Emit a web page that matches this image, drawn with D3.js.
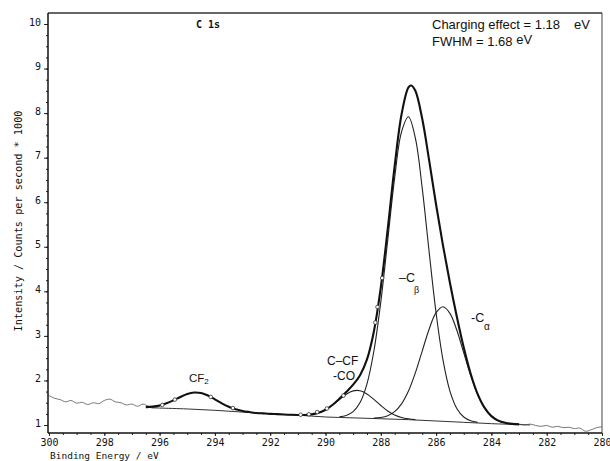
<!DOCTYPE html>
<html>
<head>
<meta charset="utf-8">
<script src="https://cdn.jsdelivr.net/npm/d3@7"></script>
<style>
  html, body { margin: 0; padding: 0; background: #fff; }
  svg { display: block; }
</style>
</head>
<body>
<svg id="chart" width="610" height="461"></svg>
<script>
// ---- data (binding energy in eV, intensity in counts/s * 1000) ----
const xTickValues = [300, 298, 296, 294, 292, 290, 288, 286, 284, 282, 280];
const yTickValues = [1, 2, 3, 4, 5, 6, 7, 8, 9, 10];

const rawLeft = [
  [300.0,1.66],[299.8,1.60],[299.6,1.57],[299.4,1.52],[299.2,1.55],[299.0,1.49],
  [298.8,1.51],[298.6,1.46],[298.4,1.50],[298.2,1.48],[298.0,1.55],[297.8,1.58],
  [297.6,1.52],[297.4,1.50],[297.2,1.45],[297.0,1.47],[296.8,1.42],[296.6,1.47],
  [296.4,1.42],[296.2,1.40],[296.0,1.42]
];
const rawRight = [
  [283.2,1.03],[283.0,1.02],[282.8,1.00],[282.6,1.02],[282.4,0.99],[282.2,0.97],
  [282.0,0.99],[281.8,0.95],[281.6,0.97],[281.4,0.94],[281.2,0.95],[281.0,0.92],
  [280.8,0.93],[280.6,0.86],[280.4,0.89],[280.2,0.94],[280.0,0.96]
];
const rawPoints = [
  [295.9,1.45],[295.45,1.57],[294.15,1.63],[293.35,1.38],[290.9,1.23],
  [290.6,1.24],[290.3,1.29],[289.95,1.37],[289.35,1.66],[288.2,3.30],
  [288.12,3.65],[287.95,4.30]
];
const background = [
  [296.3,1.385],[296,1.38],[295,1.36],[294,1.33],[293,1.29],[292,1.25],[291,1.22],
  [290,1.18],[289,1.16],[288,1.14],[287,1.12],[286,1.09],[285,1.06],[284,1.03],
  [283,1.01],[282.6,1.00]
];
const envelope = [
  [296.5,1.402],[296.25,1.413],[296.0,1.439],[295.75,1.486],[295.5,1.552],[295.25,1.628],
  [295.0,1.695],[294.75,1.729],[294.5,1.716],[294.25,1.661],[294.0,1.577],[293.75,1.486],
  [293.5,1.409],[293.25,1.351],[293.0,1.314],[292.75,1.290],[292.5,1.270],[292.25,1.260],
  [292.0,1.250],[291.75,1.243],[291.5,1.235],[291.25,1.229],[291.0,1.225],[290.75,1.226],
  [290.5,1.239],[290.25,1.274],[290.0,1.342],[289.75,1.450],[289.5,1.588],[289.25,1.741],
  [289.0,1.905],[288.75,2.118],[288.5,2.472],[288.25,3.100],[288.0,4.088],[287.75,5.396],
  [287.5,6.807],[287.25,7.970],[287.0,8.577],[286.9,8.620],[286.75,8.502],[286.5,7.866],
  [286.25,6.932],[286.0,5.944],[285.75,5.026],[285.5,4.193],[285.25,3.430],[285.0,2.738],
  [284.75,2.151],[284.5,1.699],[284.25,1.390],[284.0,1.199],[283.75,1.098],[283.5,1.049],
  [283.25,1.025],[283.0,1.013]
];
const compCCF = [
  [291.0,1.225],[290.75,1.226],[290.5,1.239],[290.25,1.274],[290.0,1.341],[289.75,1.446],
  [289.5,1.573],[289.25,1.692],[289.0,1.766],[288.75,1.769],[288.5,1.697],[288.25,1.574],
  [288.0,1.437],[287.75,1.315],[287.5,1.227],[287.25,1.170],[287.0,1.139],[286.75,1.120]
];
const compCbeta = [
  [289.5,1.185],[289.25,1.214],[289.0,1.299],[288.75,1.504],[288.5,1.925],[288.25,2.661],
  [288.0,3.762],[287.75,5.143],[287.5,6.541],[287.25,7.577],[287.0,7.917],[286.75,7.438],
  [286.5,6.305],[286.25,4.874],[286.0,3.513],[285.75,2.456],[285.5,1.762],[285.25,1.372],
  [285.0,1.179],[284.75,1.094],[284.5,1.058]
];
const compCalpha = [
  [288.25,1.155],[288.0,1.169],[287.75,1.208],[287.5,1.299],[287.25,1.473],[287.0,1.761],
  [286.75,2.170],[286.5,2.664],[286.25,3.156],[286.0,3.521],[285.75,3.653],[285.5,3.506],
  [285.25,3.126],[285.0,2.619],[284.75,2.110],[284.5,1.686],[284.25,1.386],[284.0,1.199],
  [283.75,1.098],[283.5,1.049],[283.25,1.025]
];

// ---- layout ----
const svg = d3.select("#chart");
const pLeft = 48, pRight = 602, pTop = 13, pBottom = 433;
const x = d3.scaleLinear().domain([300, 280]).range([pLeft + 1, pRight]);
const y = d3.scaleLinear().domain([1, 10]).range([425, 24]);
const mono = "'DejaVu Sans Mono', 'Liberation Mono', monospace";
const sans = "'Liberation Sans', Arial, sans-serif";

// frame (top and right borders)
svg.append("line").attr("x1", pLeft).attr("x2", pRight).attr("y1", pTop).attr("y2", pTop)
  .attr("stroke", "#333").attr("stroke-width", 1.3);
svg.append("line").attr("x1", pRight).attr("x2", pRight).attr("y1", pTop).attr("y2", pBottom)
  .attr("stroke", "#444").attr("stroke-width", 1);

// axes
const xAxis = svg.append("g").attr("transform", `translate(0,${pBottom})`)
  .call(d3.axisBottom(x).tickValues(xTickValues).tickSize(3).tickSizeOuter(0).tickFormat(d3.format("d")));
const xMinor = svg.append("g").attr("transform", `translate(0,${pBottom})`)
  .call(d3.axisBottom(x).tickValues(d3.range(300, 279.9, -0.5)).tickSize(2).tickFormat(""));
const yAxis = svg.append("g").attr("transform", `translate(${pLeft},0)`)
  .call(d3.axisLeft(y).tickValues(yTickValues).tickSize(4).tickSizeOuter(0).tickFormat(d3.format("d")));
const yMinor = svg.append("g").attr("transform", `translate(${pLeft},0)`)
  .call(d3.axisLeft(y).tickValues(d3.range(1, 10.01, 0.25)).tickSize(2).tickFormat(""));

[xAxis, xMinor, yAxis, yMinor].forEach(g => {
  g.select(".domain").remove();
  g.selectAll("line").attr("stroke", "#222").attr("stroke-width", 1);
  g.selectAll("text").attr("font-family", mono).attr("font-size", 10).attr("fill", "#111");
});
yAxis.selectAll("text").attr("dy", "0.12em");
svg.append("line").attr("x1", pLeft).attr("x2", pLeft).attr("y1", pTop).attr("y2", pBottom)
  .attr("stroke", "#111").attr("stroke-width", 1.5);
svg.append("line").attr("x1", pLeft).attr("x2", pRight).attr("y1", pBottom).attr("y2", pBottom)
  .attr("stroke", "#111").attr("stroke-width", 1.3);

// axis titles
svg.append("text").attr("x", 50).attr("y", 459).attr("font-family", mono).attr("font-size", 9.5)
  .attr("fill", "#111").text("Binding Energy / eV");
svg.append("text").attr("transform", "translate(22,221) rotate(-90)").attr("text-anchor", "middle")
  .attr("font-family", mono).attr("font-size", 10.2).attr("fill", "#111")
  .text("Intensity / Counts per second * 1000");

// curves
const line = d3.line().x(d => x(d[0])).y(d => y(d[1])).curve(d3.curveCatmullRom.alpha(0.5));
const plot = svg.append("g");
plot.append("path").datum(rawLeft).attr("d", line).attr("fill", "none")
  .attr("stroke", "#555").attr("stroke-width", 0.8);
plot.append("path").datum(rawRight).attr("d", line).attr("fill", "none")
  .attr("stroke", "#555").attr("stroke-width", 0.8);
plot.append("path").datum(background).attr("d", line).attr("fill", "none")
  .attr("stroke", "#333").attr("stroke-width", 1);
[compCCF, compCbeta, compCalpha].forEach(c => {
  plot.append("path").datum(c).attr("d", line).attr("fill", "none")
    .attr("stroke", "#222").attr("stroke-width", 1.1);
});
plot.append("path").datum(envelope).attr("d", line).attr("fill", "none")
  .attr("stroke", "#111").attr("stroke-width", 2.1);
plot.selectAll("circle.raw").data(rawPoints).join("circle").attr("class", "raw")
  .attr("cx", d => x(d[0])).attr("cy", d => y(d[1])).attr("r", 1.8)
  .attr("fill", "#fff").attr("stroke", "#333").attr("stroke-width", 0.8);

// annotations
svg.append("text").attr("x", 196).attr("y", 28).attr("font-family", mono).attr("font-weight", "bold")
  .attr("font-size", 10).attr("fill", "#111").text("C 1s");
svg.append("text").attr("x", 432).attr("y", 29).attr("font-family", sans).attr("font-size", 13)
  .attr("fill", "#111").text("Charging effect = 1.18");
svg.append("text").attr("x", 590).attr("y", 29).attr("text-anchor", "end").attr("font-family", sans)
  .attr("font-size", 13).attr("fill", "#111").text("eV");
const fw = svg.append("text").attr("x", 432).attr("y", 46).attr("font-family", sans).attr("font-size", 13)
  .attr("fill", "#111");
fw.append("tspan").text("FWHM = 1.68 ");
fw.append("tspan").attr("dy", -2).text("eV");

const cf2 = svg.append("text").attr("x", 189).attr("y", 382).attr("font-family", sans)
  .attr("font-size", 11.5).attr("fill", "#111");
cf2.append("tspan").text("CF");
cf2.append("tspan").attr("font-size", 8).attr("dy", 2).text("2");

svg.append("text").attr("x", 327).attr("y", 365).attr("font-family", sans).attr("font-size", 12)
  .attr("fill", "#111").text("C\u2013CF");
svg.append("text").attr("x", 333).attr("y", 380).attr("font-family", sans).attr("font-size", 12)
  .attr("fill", "#111").text("-CO");

svg.append("text").attr("x", 399).attr("y", 282).attr("font-family", sans)
  .attr("font-size", 12.5).attr("fill", "#111").text("\u2013C");
svg.append("text").attr("x", 414).attr("y", 293).attr("font-family", sans)
  .attr("font-size", 9).attr("fill", "#111").text("\u03b2");

svg.append("text").attr("x", 471).attr("y", 322).attr("font-family", sans)
  .attr("font-size", 12.5).attr("fill", "#111").text("-C");
svg.append("text").attr("x", 484).attr("y", 330).attr("font-family", sans)
  .attr("font-size", 10).attr("fill", "#111").text("\u03b1");
</script>
</body>
</html>
